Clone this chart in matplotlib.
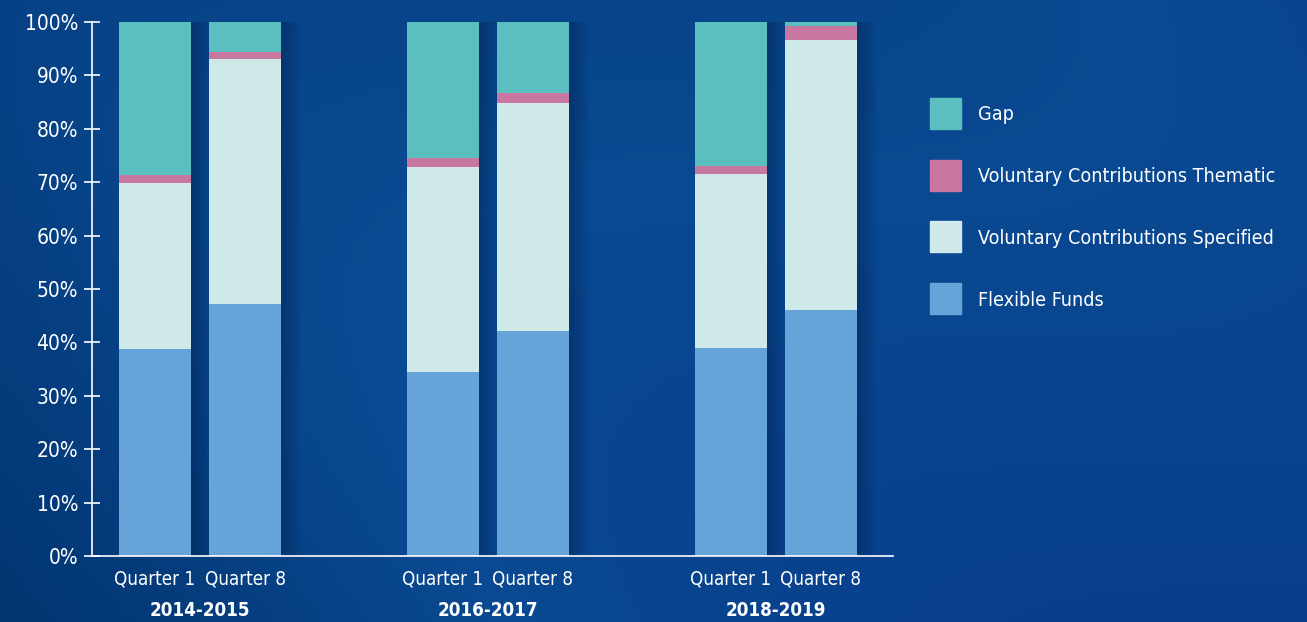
import numpy as np
import matplotlib.pyplot as plt
from matplotlib import font_manager
from matplotlib.patches import Rectangle
from matplotlib.colors import LinearSegmentedColormap

# Datos (% del total por periodo)
periods = ['2014-2015', '2016-2017', '2018-2019']
quarters = ['Quarter 1', 'Quarter 8']
flexible = [38.8, 47.2, 34.5, 42.1, 39.0, 46.1]
specified = [31.1, 45.9, 38.3, 42.7, 32.5, 50.5]
thematic = [1.4, 1.3, 1.7, 1.9, 1.5, 2.65]
gap = [100 - a - b - c for a, b, c in zip(flexible, specified, thematic)]

series = ['Flexible Funds', 'Voluntary Contributions Specified',
          'Voluntary Contributions Thematic', 'Gap']
colors = ['#66a3d8', '#cfe8e8', '#c878a0', '#5bbfbf']

# fuente condensada si existe
fp = font_manager.FontProperties(family='DejaVu Sans', stretch='condensed')
path = font_manager.findfont(fp, fallback_to_default=False)
if 'Condensed' in path:
    plt.rcParams['font.family'] = ['DejaVu Sans']
    plt.rcParams['font.stretch'] = 'condensed'
    k = 1.0
else:
    plt.rcParams['font.family'] = ['Roboto', 'DejaVu Sans']
    k = 0.9

fig = plt.figure(figsize=(13.07, 6.22), dpi=100)

# fondo degradado azul
bg = fig.add_axes([0, 0, 1, 1], zorder=-10)
gx = np.linspace(0, 1, 300)
gy = np.linspace(0, 1, 150)
X, Y = np.meshgrid(gx, gy)
Z = 0.6 * X + 0.2 * np.sin(3 * X + 2 * Y) + 0.1 * Y
bg.imshow(Z, cmap=LinearSegmentedColormap.from_list(
    'bg', ['#033672', '#053d7e', '#0a4a92', '#083f8c']), aspect='auto',
    extent=[0, 1, 0, 1], origin='lower')
bg.axis('off')

ax = fig.add_axes([0.0704, 0.1061, 0.6126, 0.8585])
ax.set_facecolor('none')

# posiciones de barras
x = []
for g in range(len(periods)):
    x += [3 * g - 0.47, 3 * g + 0.47]
x = np.array(x)
w = 0.75

# sombra suave
for off in [0.05, 0.1, 0.15, 0.2]:
    ax.bar(x + off, [100] * len(x), width=w, color='#001a40', alpha=0.09, zorder=1)

bottom = np.zeros(len(x))
for vals, col, name in zip([flexible, specified, thematic, gap], colors, series):
    ax.bar(x, vals, width=w, bottom=bottom, color=col, label=name, zorder=2)
    bottom += np.array(vals)

ax.set_xlim(-1.125, 7.22)
ax.set_ylim(0, 100)
ax.set_yticks(range(0, 101, 10))
ax.set_yticklabels([f'{v}%' for v in range(0, 101, 10)], color='white', fontsize=15 * k)
ax.tick_params(axis='y', direction='inout', length=12, width=1.2, color='white', pad=4)
ax.set_xticks(x)
ax.set_xticklabels(quarters * len(periods), color='white', fontsize=13.5 * k)
ax.tick_params(axis='x', length=0, pad=10)
for s in ['top', 'right']:
    ax.spines[s].set_visible(False)
for s in ['left', 'bottom']:
    ax.spines[s].set_color('white')
    ax.spines[s].set_linewidth(1.2)

for g, p in enumerate(periods):
    ax.text(3 * g, -10.2, p, ha='center', va='center', color='white',
            fontsize=13.5 * k, fontweight='bold')

# leyenda manual (orden inverso)
W, H = 1307, 622
for i, (c, n) in enumerate(zip(colors[::-1], series[::-1])):
    top = 98 + i * 61.7
    fig.add_artist(Rectangle((930 / W, 1 - (top + 31) / H), 31 / W, 31 / H,
                             transform=fig.transFigure, color=c))
    fig.text(978 / W, 1 - (top + 17) / H, n, color='white', fontsize=14.1 * k,
             va='center', ha='left')

plt.savefig('out.png', dpi=100)
